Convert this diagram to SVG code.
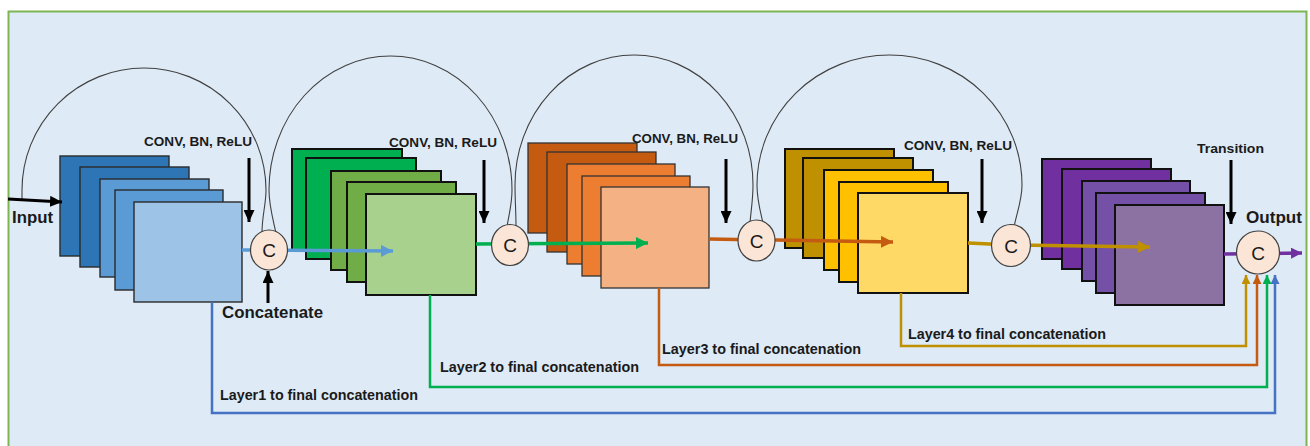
<svg xmlns="http://www.w3.org/2000/svg" width="1310" height="446" viewBox="0 0 1310 446">
<style>
.lbl{font-family:"Liberation Sans",Arial,sans-serif;font-weight:bold;fill:#1a1a1a}
.cl{font-family:"Liberation Sans",Arial,sans-serif;font-size:19px;fill:#1a1a1a;text-anchor:middle}
.arc{fill:none;stroke:#404040;stroke-width:1.1}
.circ{fill:#fbe5d6;stroke:#404040;stroke-width:1.2}
.b1{stroke:#2a2a2a;stroke-width:1.4}
.b2{stroke:#111;stroke-width:2}
.b3{stroke:#333;stroke-width:1.3}
.blk{stroke:#000;stroke-width:3;fill:none}
.conn{fill:none}
</style>
<defs>
<marker id="mk" markerUnits="userSpaceOnUse" markerWidth="12" markerHeight="11" refX="12" refY="5.5" orient="auto"><path d="M0,0 L12,5.5 L0,11 z" fill="#000"/></marker>
<marker id="mBlue" markerUnits="userSpaceOnUse" markerWidth="12" markerHeight="12" refX="12" refY="6" orient="auto"><path d="M0,0 L12,6 L0,12 z" fill="#5b9bd5"/></marker>
<marker id="mGreen" markerUnits="userSpaceOnUse" markerWidth="12" markerHeight="12" refX="12" refY="6" orient="auto"><path d="M0,0 L12,6 L0,12 z" fill="#00b050"/></marker>
<marker id="mOrange" markerUnits="userSpaceOnUse" markerWidth="12" markerHeight="12" refX="12" refY="6" orient="auto"><path d="M0,0 L12,6 L0,12 z" fill="#c55a11"/></marker>
<marker id="mGold" markerUnits="userSpaceOnUse" markerWidth="12" markerHeight="12" refX="12" refY="6" orient="auto"><path d="M0,0 L12,6 L0,12 z" fill="#bf9000"/></marker>
<marker id="mPurple" markerUnits="userSpaceOnUse" markerWidth="11" markerHeight="11" refX="11" refY="5.5" orient="auto"><path d="M0,0 L11,5.5 L0,11 z" fill="#7030a0"/></marker>
<marker id="sBlue" markerUnits="userSpaceOnUse" markerWidth="9" markerHeight="9" refX="9" refY="4.5" orient="auto"><path d="M0,0 L9,4.5 L0,9 z" fill="#4472c4"/></marker>
<marker id="sGreen" markerUnits="userSpaceOnUse" markerWidth="9" markerHeight="9" refX="9" refY="4.5" orient="auto"><path d="M0,0 L9,4.5 L0,9 z" fill="#00b050"/></marker>
<marker id="sOrange" markerUnits="userSpaceOnUse" markerWidth="9" markerHeight="9" refX="9" refY="4.5" orient="auto"><path d="M0,0 L9,4.5 L0,9 z" fill="#c55a11"/></marker>
<marker id="sGold" markerUnits="userSpaceOnUse" markerWidth="9" markerHeight="9" refX="9" refY="4.5" orient="auto"><path d="M0,0 L9,4.5 L0,9 z" fill="#bf9000"/></marker>
</defs>
<rect x="0" y="0" width="1310" height="446" fill="#ffffff"/>
<rect x="8.5" y="11.5" width="1298" height="460" fill="#deeaf6" stroke="#7db552" stroke-width="2"/>

<g id="loops">
<path class="arc" d="M22,200 L22,190 A122,122 0 0 1 266,190 C266,205 262,215 262,233"/>
<path class="arc" d="M276,233 C272,215 269,205 269,190 A121.5,134 0 0 1 512,190 C512,205 509,213 507,227"/>
<path class="arc" d="M516,226 C516,212 515,200 515,185 A119,130 0 0 1 753,185 C753,200 751,210 750,223"/>
<path class="arc" d="M763,223 C760,210 757,200 757,185 A132.5,130 0 0 1 1022,185 C1022,200 1017,212 1014,227"/>
</g>

<g id="block1">
<rect class="b1" x="60" y="156" width="109" height="100" fill="#2e75b6"/>
<rect class="b1" x="80" y="167" width="109" height="100" fill="#2e75b6"/>
<rect class="b1" x="100" y="179" width="109" height="98" fill="#5b9bd5"/>
<rect class="b1" x="115" y="190" width="108" height="100" fill="#5b9bd5"/>
<rect class="b1" x="134" y="202" width="108" height="100" fill="#9dc3e6"/>
</g>
<g id="block2">
<rect class="b2" x="292" y="149" width="110" height="102" fill="#00b050"/>
<rect class="b2" x="306" y="158" width="110" height="101" fill="#00b050"/>
<rect class="b2" x="331" y="171" width="110" height="99" fill="#70ad47"/>
<rect class="b2" x="347" y="182" width="109" height="100" fill="#70ad47"/>
<rect class="b2" x="366" y="194" width="110" height="101" fill="#a9d18e"/>
</g>
<g id="block3">
<rect class="b3" x="528" y="143" width="109" height="90" fill="#c55a11"/>
<rect class="b3" x="547" y="152" width="109" height="100" fill="#c55a11"/>
<rect class="b3" x="567" y="164" width="108" height="100" fill="#ed7d31"/>
<rect class="b3" x="582" y="176" width="108" height="100" fill="#ed7d31"/>
<rect class="b3" x="601" y="187" width="108" height="101" fill="#f4b183"/>
</g>
<g id="block4">
<rect class="b2" x="785" y="149" width="109" height="99" fill="#bf9000"/>
<rect class="b2" x="803" y="158" width="110" height="100" fill="#bf9000"/>
<rect class="b2" x="824" y="170" width="109" height="100" fill="#ffc000"/>
<rect class="b2" x="839" y="182" width="109" height="100" fill="#ffc000"/>
<rect class="b2" x="858" y="193" width="110" height="100" fill="#ffd966"/>
</g>
<g id="block5">
<rect class="b2" x="1042" y="159" width="109" height="100" fill="#7030a0"/>
<rect class="b2" x="1062" y="169" width="109" height="100" fill="#7030a0"/>
<rect class="b2" x="1082" y="181" width="108" height="100" fill="#7451a6"/>
<rect class="b2" x="1096" y="193" width="109" height="100" fill="#7451a6"/>
<rect class="b2" x="1115" y="205" width="109" height="100" fill="#8b72a3"/>
</g>

<g id="connectors">
<path class="conn" d="M212,302 V413 H1275 V275" stroke="#4472c4" stroke-width="2.5" marker-end="url(#sBlue)"/>
<path class="conn" d="M430,295 V387 H1267 V275" stroke="#00b050" stroke-width="2.5" marker-end="url(#sGreen)"/>
<path class="conn" d="M659,288 V365 H1257 V275" stroke="#c55a11" stroke-width="2.5" marker-end="url(#sOrange)"/>
<path class="conn" d="M901,293 V346 H1246 V275" stroke="#bf9000" stroke-width="2.5" marker-end="url(#sGold)"/>
<path class="conn" d="M242,250 L393,251" stroke="#5b9bd5" stroke-width="3.5" marker-end="url(#mBlue)"/>
<path class="conn" d="M476,244 L648,243" stroke="#00b050" stroke-width="3.5" marker-end="url(#mGreen)"/>
<path class="conn" d="M709,239 L893,242" stroke="#c55a11" stroke-width="3.5" marker-end="url(#mOrange)"/>
<path class="conn" d="M968,243 L1011,245 L1150,247" stroke="#bf9000" stroke-width="3.5" marker-end="url(#mGold)"/>
<path class="conn" d="M1224,254 L1302,253" stroke="#7030a0" stroke-width="3.5" marker-end="url(#mPurple)"/>
<path class="blk" d="M8,199 L62,202" marker-end="url(#mk)"/>
<path class="blk" d="M249,158 L249,222" marker-end="url(#mk)"/>
<path class="blk" d="M484,160 L484,223" marker-end="url(#mk)"/>
<path class="blk" d="M726,159 L726,223" marker-end="url(#mk)"/>
<path class="blk" d="M982,159 L982,223" marker-end="url(#mk)"/>
<path class="blk" d="M1231,160 L1231,224" marker-end="url(#mk)"/>
<path class="blk" d="M268,303 L268,271" marker-end="url(#mk)"/>
</g>

<g id="c1"><ellipse class="circ" cx="269" cy="250" rx="18.5" ry="20"/><text class="cl" x="269" y="257">C</text></g>
<g id="c2"><ellipse class="circ" cx="510" cy="245" rx="18.5" ry="20.5"/><text class="cl" x="510" y="252">C</text></g>
<g id="c3"><ellipse class="circ" cx="756.5" cy="240.5" rx="18.5" ry="20.5"/><text class="cl" x="756.5" y="247.5">C</text></g>
<g id="c4"><ellipse class="circ" cx="1011" cy="245.5" rx="19.5" ry="21"/><text class="cl" x="1011" y="252.5">C</text></g>
<g id="c5"><ellipse class="circ" cx="1258" cy="252.5" rx="21.5" ry="21.5"/><text class="cl" x="1258" y="259.5">C</text></g>

<g id="labels">
<text class="lbl" x="144" y="146" font-size="13.5" textLength="108" lengthAdjust="spacingAndGlyphs">CONV, BN, ReLU</text>
<text class="lbl" x="389" y="147" font-size="13.5" textLength="108" lengthAdjust="spacingAndGlyphs">CONV, BN, ReLU</text>
<text class="lbl" x="632" y="143" font-size="13.5" textLength="106" lengthAdjust="spacingAndGlyphs">CONV, BN, ReLU</text>
<text class="lbl" x="904" y="150" font-size="13.5" textLength="108" lengthAdjust="spacingAndGlyphs">CONV, BN, ReLU</text>
<text class="lbl" x="1197" y="153" font-size="13.5" textLength="67" lengthAdjust="spacingAndGlyphs">Transition</text>
<text class="lbl" x="1246" y="223" font-size="16" textLength="56" lengthAdjust="spacingAndGlyphs">Output</text>
<text class="lbl" x="12" y="223" font-size="16" textLength="41" lengthAdjust="spacingAndGlyphs">Input</text>
<text class="lbl" x="222" y="318" font-size="16.5" textLength="101" lengthAdjust="spacingAndGlyphs">Concatenate</text>
<text class="lbl" x="220" y="400" font-size="14" textLength="198" lengthAdjust="spacingAndGlyphs">Layer1 to final concatenation</text>
<text class="lbl" x="440" y="372" font-size="14" textLength="199" lengthAdjust="spacingAndGlyphs">Layer2 to final concatenation</text>
<text class="lbl" x="662" y="354" font-size="14" textLength="199" lengthAdjust="spacingAndGlyphs">Layer3 to final concatenation</text>
<text class="lbl" x="908" y="339" font-size="14" textLength="198" lengthAdjust="spacingAndGlyphs">Layer4 to final concatenation</text>
</g>
</svg>
